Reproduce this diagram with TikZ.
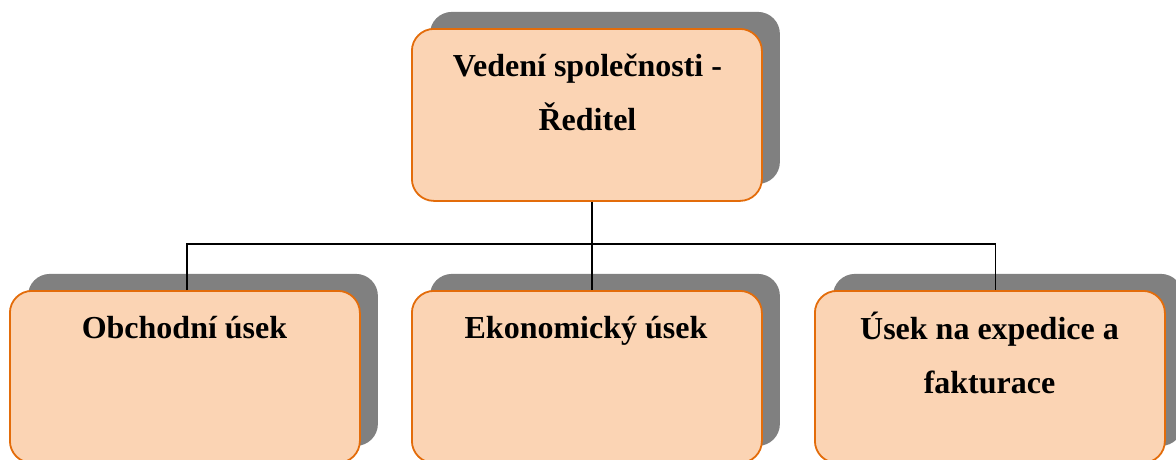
\documentclass[tikz,border=0pt]{standalone}
\usepackage{fontspec}
\setmainfont{Liberation Serif}
\usetikzlibrary{shadows}
\definecolor{boxfill}{HTML}{FBD4B4}
\definecolor{boxdraw}{HTML}{E36C0A}
\definecolor{shadowgray}{HTML}{808080}
\tikzset{
  orgbox/.style={draw=boxdraw, fill=boxfill, line width=1.8pt, rounded corners=22pt,
    minimum width=350pt, minimum height=172pt, inner sep=0pt, anchor=north west,
    drop shadow={shadow xshift=18pt, shadow yshift=17pt, fill=shadowgray, opacity=1}},
  boxtext/.style={font=\fontsize{32}{54}\selectfont\bfseries, align=center, anchor=base, inner sep=0pt},
  conn/.style={draw=black, line width=1.8pt}
}
\begin{document}
\begin{tikzpicture}[x=1pt,y=-1pt]
\useasboundingbox (0,0) rectangle (1176,459);
\node[orgbox] (top) at (411,28) {};
\node[orgbox] (left) at (9,290) {};
\node[orgbox] (mid) at (411,290) {};
\node[orgbox] (right) at (814,290) {};
\node[boxtext] (ttop) at (587.5,130) {Vedení společnosti -\\Ředitel};
\node[boxtext] (tleft) at (184.5,338) {Obchodní úsek};
\node[boxtext] (tmid) at (586,338) {Ekonomický úsek};
\node[boxtext] (tright) at (989.5,393) {Úsek na expedice a\\fakturace};
\coordinate (bus) at (0,244);
\coordinate (tb) at ([xshift=5pt]top.south);
\coordinate (mt) at ([xshift=5pt]mid.north);
\coordinate (lt) at ([xshift=2pt]left.north);
\coordinate (rt) at ([xshift=5.5pt]right.north);
\draw[conn] (tb) -- (mt);
\draw[conn] (lt) -- (lt |- bus) -- (rt |- bus) -- (rt);
\end{tikzpicture}
\end{document}
